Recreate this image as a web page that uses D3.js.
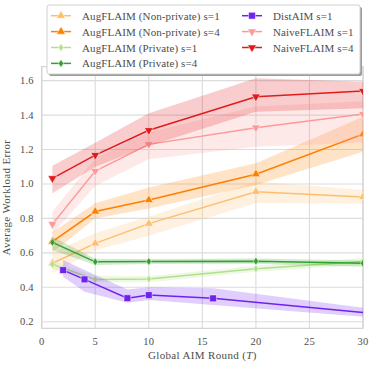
<!DOCTYPE html>
<html>
<head>
<meta charset="utf-8">
<script src="https://cdn.jsdelivr.net/npm/d3@7"></script>
<style>
  body { margin: 0; background: #fff; }
  text { font-family: "Liberation Serif", "DejaVu Serif", serif; fill: #4d4d4d; }
</style>
</head>
<body>
<div id="chart"></div>
<script>
// rounds where each method was evaluated
var rounds = [1, 5, 10, 20, 30];
var distRounds = [2, 4, 8, 10, 16, 32];

var seriesNames = ["AugFLAIM (Non-private) s=1", "AugFLAIM (Non-private) s=4",
    "AugFLAIM (Private) s=1", "AugFLAIM (Private) s=4",
    "DistAIM s=1", "NaiveFLAIM s=1", "NaiveFLAIM s=4"];

var augNP1 = [0.54, 0.655, 0.77, 0.955, 0.925];
var augNP1Lo = [0.48, 0.615, 0.70, 0.89, 0.885];
var augNP1Hi = [0.60, 0.715, 0.81, 1.015, 0.965];

var augNP4 = [0.665, 0.84, 0.907, 1.057, 1.289];
var augNP4Lo = [0.60, 0.80, 0.858, 0.994, 1.187];
var augNP4Hi = [0.72, 0.888, 0.98, 1.12, 1.39];

var augP1 = [0.533, 0.446, 0.448, 0.508, 0.55];
var augP1Lo = [0.51, 0.43, 0.43, 0.49, 0.53];
var augP1Hi = [0.555, 0.465, 0.465, 0.525, 0.57];

var augP4 = [0.661, 0.548, 0.55, 0.552, 0.539];
var augP4Lo = [0.616, 0.53, 0.535, 0.537, 0.52];
var augP4Hi = [0.694, 0.566, 0.565, 0.567, 0.555];

var dist = [0.5, 0.446, 0.337, 0.355, 0.336, 0.242];
var distLo = [0.461, 0.374, 0.31, 0.326, 0.297, 0.22];
var distHi = [0.558, 0.5, 0.388, 0.4, 0.394, 0.265];

var naive1 = [0.767, 1.075, 1.23, 1.327, 1.406];
var naive1Lo = [0.71, 0.99, 1.143, 1.216, 1.24];
var naive1Hi = [0.839, 1.15, 1.30, 1.45, 1.48];

var naive4 = [1.033, 1.168, 1.312, 1.507, 1.54];
var naive4Lo = [0.946, 1.10, 1.22, 1.42, 1.44];
var naive4Hi = [1.106, 1.24, 1.41, 1.614, 1.594];

var xTicks = [0, 5, 10, 15, 20, 25, 30];
var yTicks = [0.2, 0.4, 0.6, 0.8, 1.0, 1.2, 1.4, 1.6];

var colors = ["#fdbf6f", "#ff7f00", "#b2df8a", "#33a02c", "#7020f0", "#fb9a99", "#e31a1c"];
var markers = ["up", "up", "diamond", "diamond", "square", "down", "down"];

var series = [
    {x: rounds, y: augNP1, lo: augNP1Lo, hi: augNP1Hi},
    {x: rounds, y: augNP4, lo: augNP4Lo, hi: augNP4Hi},
    {x: rounds, y: augP1, lo: augP1Lo, hi: augP1Hi},
    {x: rounds, y: augP4, lo: augP4Lo, hi: augP4Hi},
    {x: distRounds, y: dist, lo: distLo, hi: distHi},
    {x: rounds, y: naive1, lo: naive1Lo, hi: naive1Hi},
    {x: rounds, y: naive4, lo: naive4Lo, hi: naive4Hi}
];

var width = 374, height = 368;
var margin = {top: 66.7, right: 11, bottom: 39.7, left: 41.7};
var w = width - margin.left - margin.right,
    h = height - margin.top - margin.bottom;

var svg = d3.select("#chart").append("svg")
    .attr("width", width)
    .attr("height", height);

var g = svg.append("g")
    .attr("transform", "translate(" + margin.left + "," + margin.top + ")");

var x = d3.scaleLinear().domain([0, 30]).range([0, w]);
var y = d3.scaleLinear().domain([0.162, 1.681]).range([h, 0]);

g.append("clipPath").attr("id", "plotclip")
    .append("rect").attr("width", w).attr("height", h);

// grid
g.selectAll(".xgrid").data(xTicks).enter().append("line")
    .attr("x1", function (d) { return x(d); })
    .attr("x2", function (d) { return x(d); })
    .attr("y1", 0).attr("y2", h)
    .style("stroke", "#dcdcdc").style("stroke-width", 1.1);
g.selectAll(".ygrid").data(yTicks).enter().append("line")
    .attr("y1", function (d) { return y(d); })
    .attr("y2", function (d) { return y(d); })
    .attr("x1", 0).attr("x2", w)
    .style("stroke", "#dcdcdc").style("stroke-width", 1.1);

// spines
g.append("rect").attr("width", w).attr("height", h)
    .style("fill", "none").style("stroke", "#cfcfcf").style("stroke-width", 1.1);

// tick labels
g.selectAll(".xt").data(xTicks).enter().append("text")
    .attr("x", function (d) { return x(d); })
    .attr("y", h + 17)
    .attr("text-anchor", "middle")
    .style("font-size", "10.5px").style("letter-spacing", "0.2px")
    .text(function (d) { return d; });
g.selectAll(".yt").data(yTicks).enter().append("text")
    .attr("x", -8)
    .attr("y", function (d) { return y(d) + 3.5; })
    .attr("text-anchor", "end")
    .style("font-size", "10.5px").style("letter-spacing", "0.2px")
    .text(function (d) { return d3.format(".1f")(d); });

// axis titles
var xt = g.append("text")
    .attr("x", w / 2).attr("y", h + 31)
    .attr("text-anchor", "middle")
    .style("font-size", "11px").style("letter-spacing", "0.35px");
xt.append("tspan").text("Global AIM Round (");
xt.append("tspan").style("font-style", "italic").text("T");
xt.append("tspan").text(")");

g.append("text")
    .attr("transform", "translate(" + (-32) + "," + (h / 2) + ") rotate(-90)")
    .attr("text-anchor", "middle")
    .style("font-size", "11px").style("letter-spacing", "0.35px")
    .text("Average Workload Error");

function symbolPath(kind) {
    if (kind === "square") return d3.symbol(d3.symbolSquare, 46)();
    if (kind === "diamond") return "M0,-4L2.6,0L0,4L-2.6,0Z";
    return d3.symbol(d3.symbolTriangle, 34)();
}
function symbolRot(kind) {
    return kind === "down" ? " rotate(180)" : "";
}

var plot = g.append("g").attr("clip-path", "url(#plotclip)");

series.forEach(function (s, k) {
    var pts = s.x.map(function (t, i) {
        return {t: t, v: s.y[i], lo: s.lo[i], hi: s.hi[i]};
    });
    var area = d3.area()
        .x(function (d) { return x(d.t); })
        .y0(function (d) { return y(d.lo); })
        .y1(function (d) { return y(d.hi); });
    var line = d3.line()
        .x(function (d) { return x(d.t); })
        .y(function (d) { return y(d.v); });

    plot.append("path").datum(pts)
        .attr("d", area)
        .style("fill", colors[k]).style("fill-opacity", 0.22);
    plot.append("path").datum(pts)
        .attr("d", line)
        .style("fill", "none").style("stroke", colors[k]).style("stroke-width", 1.5);
    plot.selectAll(".m" + k).data(pts).enter().append("path")
        .attr("transform", function (d) {
            return "translate(" + x(d.t) + "," + y(d.v) + ")" + symbolRot(markers[k]);
        })
        .attr("d", symbolPath(markers[k]))
        .style("fill", colors[k]).style("stroke", "#fff").style("stroke-width", 0.5);
});

// legend
var lg = svg.append("g").attr("transform", "translate(47,5)");
lg.append("rect").attr("x", 2).attr("y", 2).attr("width", 313).attr("height", 69)
    .attr("rx", 2).style("fill", "#9a9a9a");
lg.append("rect").attr("width", 313).attr("height", 69).attr("rx", 2)
    .style("fill", "#fff").style("stroke", "#d0d0d0").style("stroke-width", 1);

var item = lg.selectAll(".item").data(seriesNames).enter().append("g")
    .attr("transform", function (d, i) {
        var col = i < 4 ? 0 : 1, row = i < 4 ? i : i - 4;
        return "translate(" + (col === 0 ? 4 : 195) + "," + (10.7 + row * 15.9) + ")";
    });
item.append("line")
    .attr("x1", 0).attr("x2", 20)
    .style("stroke", function (d, i) { return colors[i]; })
    .style("stroke-width", 1.5);
item.append("path")
    .attr("transform", function (d, i) { return "translate(10,0)" + symbolRot(markers[i]); })
    .attr("d", function (d, i) { return symbolPath(markers[i]); })
    .style("fill", function (d, i) { return colors[i]; })
    .style("stroke", "#fff").style("stroke-width", 0.5);
item.append("text")
    .attr("x", 31).attr("y", 4)
    .style("font-size", "11px").style("letter-spacing", "0.1px")
    .text(function (d) { return d; });
</script>
</body>
</html>
